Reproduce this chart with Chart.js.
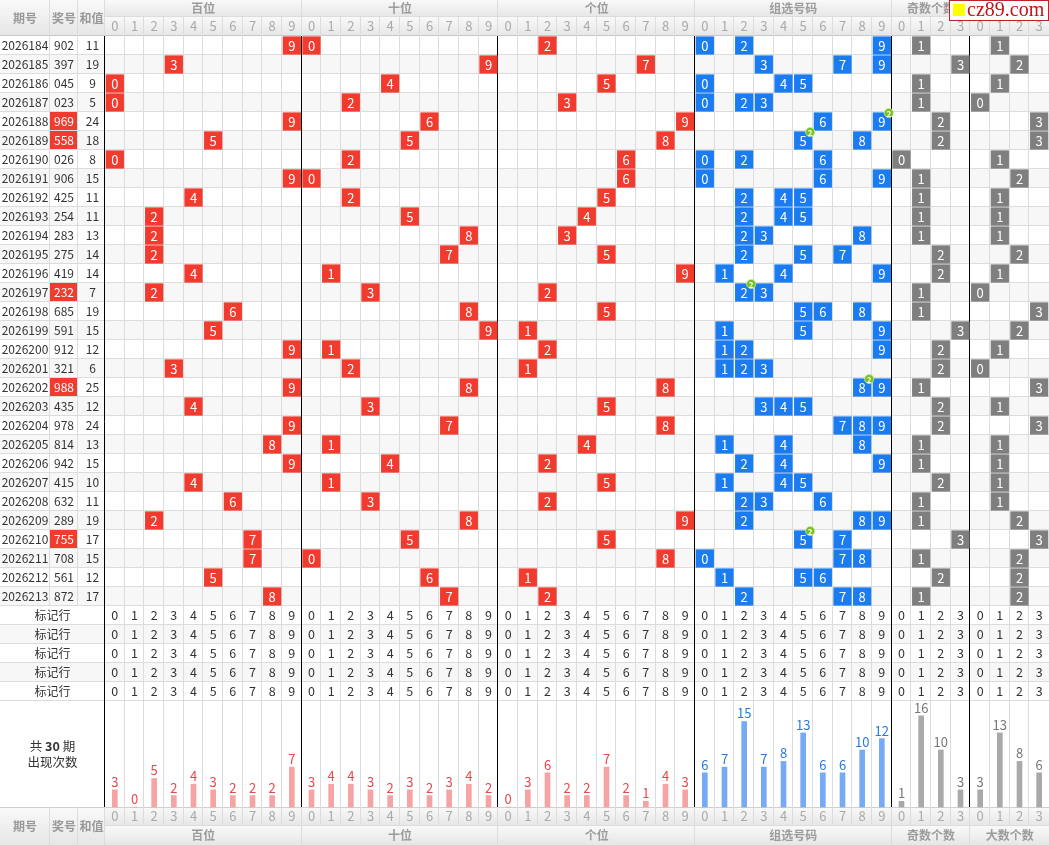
<!DOCTYPE html>
<html>
<head>
<meta charset="utf-8">
<title>走势图</title>
<script src="https://cdn.jsdelivr.net/npm/chart.js"></script>
<style>
  html, body { margin: 0; padding: 0; background: #fff; overflow: hidden; }
  #trend { display: block; }
</style>
</head>
<body>
<canvas id="trend" width="1049" height="845"></canvas>
<script>
// ---- datos ----
const periods = ['2026184','2026185','2026186','2026187','2026188','2026189','2026190','2026191','2026192','2026193',
                 '2026194','2026195','2026196','2026197','2026198','2026199','2026200','2026201','2026202','2026203',
                 '2026204','2026205','2026206','2026207','2026208','2026209','2026210','2026211','2026212','2026213'];
const draws = ['902','397','045','023','969','558','026','906','425','254',
               '283','275','419','232','685','591','912','321','988','435',
               '978','814','942','415','632','289','755','708','561','872'];
const sums = [11,19,9,5,24,18,8,15,11,11,13,14,14,7,19,15,12,6,25,12,24,13,15,10,11,19,17,15,12,17];

const hundreds = [9,3,0,0,9,5,0,9,4,2,2,2,4,2,6,5,9,3,9,4,9,8,9,4,6,2,7,7,5,8];
const tens     = [0,9,4,2,6,5,2,0,2,5,8,7,1,3,8,9,1,2,8,3,7,1,4,1,3,8,5,0,6,7];
const units    = [2,7,5,3,9,8,6,6,5,4,3,5,9,2,5,1,2,1,8,5,8,4,2,5,2,9,5,8,1,2];

const zuxuan = [[0,2,9],[3,7,9],[0,4,5],[0,2,3],[6,9],[5,8],[0,2,6],[0,6,9],[2,4,5],[2,4,5],
                [2,3,8],[2,5,7],[1,4,9],[2,3],[5,6,8],[1,5,9],[1,2,9],[1,2,3],[8,9],[3,4,5],
                [7,8,9],[1,4,8],[2,4,9],[1,4,5],[2,3,6],[2,8,9],[5,7],[0,7,8],[1,5,6],[2,7,8]];
// dígito repetido (组三), null si no hay
const repeats = [null,null,null,null,9,5,null,null,null,null,null,null,null,2,null,
                 null,null,null,8,null,null,null,null,null,null,null,5,null,null,null];

const oddNums = [1,3,1,1,2,2,0,1,1,1,1,2,2,1,1,3,2,2,1,2,2,1,1,2,1,1,3,1,2,1];
const bigNums = [1,2,1,0,3,3,1,2,1,1,1,2,1,0,3,2,1,0,3,1,3,1,1,1,1,2,3,2,2,2];

// 出现次数
const hundredsCount = [3,0,5,2,4,3,2,2,2,7];
const tensCount     = [3,4,4,3,2,3,2,3,4,2];
const unitsCount    = [0,3,6,2,2,7,2,1,4,3];
const zuxuanCount   = [6,7,15,7,8,13,6,6,10,12];
const oddCount      = [1,16,10,3];
const bigCount      = [3,13,8,6];

const digitTicks = ['0','1','2','3','4','5','6','7','8','9'];
const countTicks = ['0','1','2','3'];
const groupNames = ['百位','十位','个位','组选号码','奇数个数','大数个数'];
const leftHeads = ['期号','奖号','和值'];
const markerLabel = '标记行';
const markerRows = 5;

// ---- layout ----
const ROW = 19, HEAD = 36, BAR_AREA = 106, LEFT = 105;
const TEXT_EDGES = [0, 50, 78, 105];
const NCOL = 48;
const COLW = (1049 - LEFT) / NCOL;
const K = 5.7; // px por unidad en barras
const FONT = '"Noto Sans CJK SC", "Noto Sans", sans-serif';

const groupSizes = [10,10,10,10,4,4];
const groupStarts = [0,10,20,30,40,44];
const groupTicks = [digitTicks, digitTicks, digitTicks, digitTicks, countTicks, countTicks];
const colLabels = groupTicks.flat();
const colCounts = [...hundredsCount, ...tensCount, ...unitsCount, ...zuxuanCount, ...oddCount, ...bigCount];
const barColors = ['#f6a3a3','#f6a3a3','#f6a3a3','#76aaf4','#a9a9a9','#a9a9a9'];
const labelColors = ['#e8474b','#e8474b','#e8474b','#2b78de','#777','#777'];
const colGroup = groupSizes.flatMap((s, g) => Array(s).fill(g));

const redCells = [], blueCells = [], greyCells = [];
periods.forEach((p, i) => {
    redCells.push({x: groupStarts[0] + hundreds[i] + 0.5, y: i + 0.5, t: hundreds[i]});
    redCells.push({x: groupStarts[1] + tens[i] + 0.5, y: i + 0.5, t: tens[i]});
    redCells.push({x: groupStarts[2] + units[i] + 0.5, y: i + 0.5, t: units[i]});
    zuxuan[i].forEach(d => blueCells.push({x: groupStarts[3] + d + 0.5, y: i + 0.5, t: d, rep: repeats[i] === d}));
    greyCells.push({x: groupStarts[4] + oddNums[i] + 0.5, y: i + 0.5, t: oddNums[i]});
    greyCells.push({x: groupStarts[5] + bigNums[i] + 0.5, y: i + 0.5, t: bigNums[i]});
});

function cellSet(data, color) {
    return {
        type: 'scatter', data: data, yAxisID: 'y',
        pointStyle: 'rect', pointRadius: 12.9, pointBorderWidth: 0,
        pointBackgroundColor: color, showLine: false
    };
}

function band(ctx, x0, y0, x1, y1) {
    const g = ctx.createLinearGradient(0, y0, 0, y1);
    g.addColorStop(0, '#f9f9f9');
    g.addColorStop(1, '#e6e6e6');
    ctx.fillStyle = g;
    ctx.fillRect(x0, y0, x1 - x0, y1 - y0);
}
function hline(ctx, y, x0, x1, color) {
    const yy = Math.round(y) - 0.5;
    ctx.strokeStyle = color; ctx.lineWidth = 1;
    ctx.beginPath(); ctx.moveTo(x0, yy); ctx.lineTo(x1, yy); ctx.stroke();
}
function vline(ctx, x, y0, y1, color) {
    const xx = Math.round(x) - 0.5;
    ctx.strokeStyle = color; ctx.lineWidth = 1;
    ctx.beginPath(); ctx.moveTo(xx, y0); ctx.lineTo(xx, y1); ctx.stroke();
}
function txt(ctx, s, x, y, font, color, align) {
    ctx.font = font; ctx.fillStyle = color;
    ctx.textAlign = align || 'center'; ctx.textBaseline = 'middle';
    ctx.fillText(s, x, y);
}

const tablePlugin = {
    id: 'trendTable',
    beforeDatasetsDraw(chart) {
        const ctx = chart.ctx;
        const W = chart.width, H = chart.height;
        const px = v => chart.scales.x.getPixelForValue(v);
        const py = v => chart.scales.y.getPixelForValue(v);
        const n = periods.length;
        const left = px(0);
        const headBot = py(0), headMid = headBot - ROW;
        const markTop = py(n);
        const barTop = py(n + markerRows);
        const barBot = chart.scales.yb.getPixelForValue(0);
        const footMid = barBot + ROW;
        ctx.save();
        ctx.fillStyle = '#fff'; ctx.fillRect(0, 0, W, H);
        for (let r = 1; r < n + markerRows; r += 2) {
            ctx.fillStyle = '#f7f7f7';
            ctx.fillRect(0, py(r), W, py(r + 1) - py(r));
        }
        band(ctx, 0, 0, left, headBot); band(ctx, left, 0, W, headMid); band(ctx, left, headMid, W, headBot);
        band(ctx, 0, barBot, left, H); band(ctx, left, barBot, W, footMid); band(ctx, left, footMid, W, H);

        for (let r = 0; r <= n + markerRows; r++) hline(ctx, py(r), 0, W, '#dcdcdc');
        hline(ctx, headBot, 0, W, '#c8c8c8');
        hline(ctx, headMid, left, W, '#dcdcdc');
        hline(ctx, barBot + 1, 0, W, '#cfcfcf');
        hline(ctx, footMid, left, W, '#dcdcdc');

        [TEXT_EDGES[1], TEXT_EDGES[2]].forEach(x => {
            vline(ctx, x, 0, markTop, '#dcdcdc');
            vline(ctx, x, barBot, H, '#dcdcdc');
        });
        for (let c = 0; c < NCOL; c++) {
            const x = px(c);
            const isGroup = groupStarts.includes(c);
            vline(ctx, x, headMid, headBot, '#dcdcdc');
            vline(ctx, x, barBot, footMid, '#dcdcdc');
            if (isGroup) { vline(ctx, x, 0, headMid, '#dcdcdc'); vline(ctx, x, footMid, H, '#dcdcdc'); }
        }
        for (let c = 0; c < NCOL; c++) {
            if (!groupStarts.includes(c)) vline(ctx, px(c), headBot, barBot, '#dcdcdc');
        }
        groupStarts.forEach(c => vline(ctx, px(c), headBot, barBot, '#000'));

        // cabecera y pie
        const headFont = 'bold 12px ' + FONT;
        leftHeads.forEach((s, k) => {
            const cx = (TEXT_EDGES[k] + TEXT_EDGES[k + 1]) / 2;
            txt(ctx, s, cx, headBot / 2, headFont, '#999');
            txt(ctx, s, cx, (barBot + H) / 2, headFont, '#999');
        });
        groupNames.forEach((s, g) => {
            const cx = px(groupStarts[g] + groupSizes[g] / 2);
            txt(ctx, s, cx, headMid / 2, headFont, '#9c9c9c');
            txt(ctx, s, cx, (footMid + H) / 2, headFont, '#9c9c9c');
        });
        colLabels.forEach((s, c) => {
            txt(ctx, s, px(c + 0.5), (headMid + headBot) / 2, '13px ' + FONT, '#aaa');
            txt(ctx, s, px(c + 0.5), (barBot + footMid) / 2, '13px ' + FONT, '#aaa');
        });

        // columnas de texto
        const dataFont = '12px ' + FONT;
        periods.forEach((p, i) => {
            const cy = py(i + 0.5);
            txt(ctx, p, (TEXT_EDGES[0] + TEXT_EDGES[1]) / 2, cy, dataFont, '#333');
            if (repeats[i] !== null) {
                ctx.fillStyle = '#f23b2f';
                ctx.fillRect(TEXT_EDGES[1], py(i) , TEXT_EDGES[2] - TEXT_EDGES[1] - 1, ROW - 1);
                txt(ctx, draws[i], (TEXT_EDGES[1] + TEXT_EDGES[2]) / 2, cy, dataFont, '#fff');
            } else {
                txt(ctx, draws[i], (TEXT_EDGES[1] + TEXT_EDGES[2]) / 2, cy, dataFont, '#333');
            }
            txt(ctx, String(sums[i]), (TEXT_EDGES[2] + TEXT_EDGES[3]) / 2 + 1, cy, dataFont, '#333');
        });
        for (let j = 0; j < markerRows; j++) {
            const cy = py(n + j + 0.5);
            txt(ctx, markerLabel, left / 2, cy, '12px ' + FONT, '#333');
            colLabels.forEach((s, c) => txt(ctx, s, px(c + 0.5), cy, '12.5px ' + FONT, '#333'));
        }
        // etiqueta del área de barras
        ctx.font = '12.5px ' + FONT;
        const a = '共 ', b = '30', d = ' 期';
        const wa = ctx.measureText(a).width, wd = ctx.measureText(d).width;
        ctx.font = 'bold 12.5px ' + FONT;
        const wb = ctx.measureText(b).width;
        let sx = left / 2 - (wa + wb + wd) / 2;
        const ly = barTop + 45;
        txt(ctx, a, sx, ly, '12.5px ' + FONT, '#333', 'left');
        txt(ctx, b, sx + wa, ly, 'bold 12.5px ' + FONT, '#333', 'left');
        txt(ctx, d, sx + wa + wb, ly, '12.5px ' + FONT, '#333', 'left');
        txt(ctx, '出现次数', left / 2, barTop + 61, '12.5px ' + FONT, '#333');
        ctx.restore();
    },
    afterDatasetsDraw(chart) {
        const ctx = chart.ctx;
        ctx.save();
        // números en las celdas
        for (let k = 1; k <= 3; k++) {
            const meta = chart.getDatasetMeta(k);
            const ds = chart.data.datasets[k];
            meta.data.forEach((el, idx) => {
                txt(ctx, String(ds.data[idx].t), el.x, el.y + 0.5, '13px ' + FONT, '#fff');
            });
        }
        // marca de repetición
        const bm = chart.getDatasetMeta(2);
        bm.data.forEach((el, idx) => {
            if (!chart.data.datasets[2].data[idx].rep) return;
            const bx = el.x + 7, by = el.y - 8.5;
            ctx.beginPath(); ctx.arc(bx, by, 4.6, 0, Math.PI * 2);
            ctx.fillStyle = '#78c21f'; ctx.fill();
            ctx.strokeStyle = '#c9eaa0'; ctx.lineWidth = 0.8; ctx.stroke();
            txt(ctx, '2', bx, by + 0.5, 'bold 8px ' + FONT, '#fff');
        });
        // valores de las barras
        const meta = chart.getDatasetMeta(0);
        meta.data.forEach((el, c) => {
            txt(ctx, String(colCounts[c]), el.x, el.y - 8, '13px ' + FONT, labelColors[colGroup[c]]);
        });
        // marca de agua
        ctx.fillStyle = '#fff'; ctx.fillRect(949, 0, 100, 21);
        ctx.strokeStyle = '#b8242a'; ctx.lineWidth = 1; ctx.strokeRect(949.5, 0.5, 99, 20);
        ctx.fillStyle = '#ffff00'; ctx.fillRect(953, 4, 12, 12);
        ctx.font = '20px "Liberation Serif", "DejaVu Serif", serif';
        ctx.fillStyle = '#c0131b'; ctx.textAlign = 'left'; ctx.textBaseline = 'middle';
        ctx.fillText('cz89.com', 967, 11, 80);
        ctx.restore();
    }
};

const ctx = document.getElementById('trend').getContext('2d');
new Chart(ctx, {
    type: 'scatter',
    data: {
        datasets: [
            {
                type: 'bar', yAxisID: 'yb',
                data: colCounts.map((v, c) => ({x: c + 0.5, y: v})),
                backgroundColor: colGroup.map(g => barColors[g]),
                barThickness: 5, borderWidth: 0, grouped: false
            },
            cellSet(redCells, '#f23b2f'),
            cellSet(blueCells, '#1b7cf1'),
            cellSet(greyCells, '#7f7f7f')
        ]
    },
    options: {
        responsive: false,
        animation: false,
        events: [],
        layout: { padding: 0, autoPadding: false },
        plugins: { legend: { display: false }, tooltip: { enabled: false } },
        scales: {
            x: { type: 'linear', offset: false, grid: { offset: false }, min: -LEFT / COLW, max: NCOL, display: false },
            y: { type: 'linear', reverse: true, min: -HEAD / ROW, max: (845 - HEAD) / ROW, display: false },
            yb: { type: 'linear', min: -(845 - (HEAD + (periods.length + markerRows) * ROW + BAR_AREA)) / K,
                  max: (HEAD + (periods.length + markerRows) * ROW + BAR_AREA) / K, display: false }
        }
    },
    plugins: [tablePlugin]
});
</script>
</body>
</html>
